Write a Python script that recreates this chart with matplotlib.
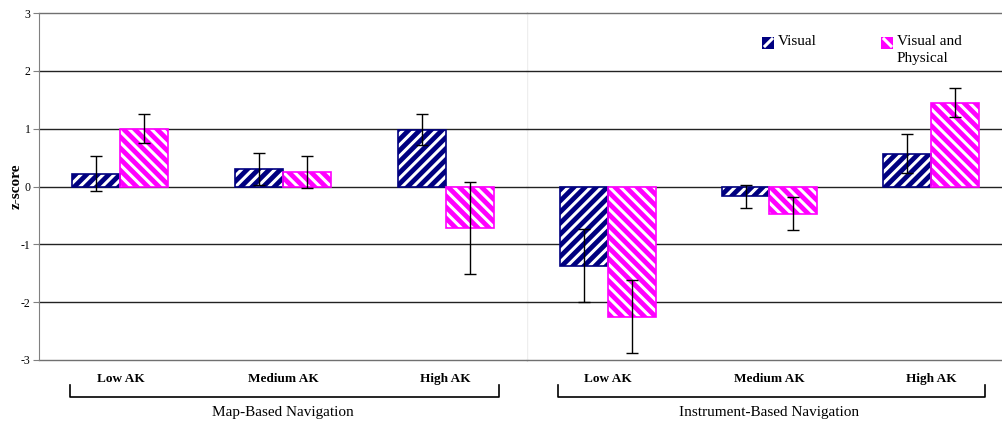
import matplotlib
matplotlib.use("Agg")
import matplotlib.pyplot as plt
from matplotlib.patches import Rectangle
from matplotlib.lines import Line2D
import numpy as np

# data
categories = ["Low AK", "Medium AK", "High AK"]
panels = ["Map-Based Navigation", "Instrument-Based Navigation"]
series = ["Visual", "Visual and\nPhysical"]

map_visual = [0.22, 0.30, 0.98]
map_visual_err = [0.30, 0.28, 0.27]
map_physical = [1.00, 0.25, -0.72]
map_physical_err = [0.25, 0.28, 0.80]

inst_visual = [-1.37, -0.17, 0.57]
inst_visual_err = [0.63, 0.20, 0.34]
inst_physical = [-2.25, -0.47, 1.45]
inst_physical_err = [0.63, 0.28, 0.25]

yticks = [-3, -2, -1, 0, 1, 2, 3]

NAVY = "#000080"
PINK = "#FF00FF"
SERIF = ["Liberation Serif", "DejaVu Serif"]

plt.rcParams["font.family"] = SERIF
plt.rcParams["hatch.linewidth"] = 2.2

W, H = 1003, 421
fig = plt.figure(figsize=(W / 100, H / 100), dpi=100)
fig.patch.set_facecolor("white")


def px_axes(x0, x1, y0, y1):
    return fig.add_axes([x0 / W, 1 - y1 / H, (x1 - x0) / W, (y1 - y0) / H])


ax_l = px_axes(39, 527, 13, 360)
ax_r = px_axes(527, 1012, 13, 360)

width = 0.295
data = [
    (ax_l, map_visual, map_visual_err, map_physical, map_physical_err, panels[0]),
    (ax_r, inst_visual, inst_visual_err, inst_physical, inst_physical_err, panels[1]),
]

x = np.arange(len(categories))
for ax, vis, vis_e, phy, phy_e, title in data:
    ax.set_xlim(-0.5, 2.5)
    ax.set_ylim(-3, 3)
    for t in yticks:
        ax.axhline(t, color="#222222" if t not in (-3, 3) else "#707070", lw=1.0, zorder=1, clip_on=False)

    # hatched bars: fill + white stripes, then coloured outline
    for xs, vals, col, hatch in [(x - width / 2, vis, NAVY, "///"), (x + width / 2, phy, PINK, "\\\\\\")]:
        ax.bar(xs, vals, width, color=col, edgecolor="white", hatch=hatch, lw=0, zorder=2)
        ax.bar(xs, vals, width, fill=False, edgecolor=col, lw=1.2, zorder=3)
    ax.errorbar(x - width / 2, vis, yerr=vis_e, fmt="none", ecolor="black", elinewidth=1, capsize=4, capthick=1, zorder=4)
    ax.errorbar(x + width / 2, phy, yerr=phy_e, fmt="none", ecolor="black", elinewidth=1, capsize=4, capthick=1, zorder=4)

    for s in ["top", "right", "bottom", "left"]:
        ax.spines[s].set_visible(False)
    ax.set_xticks([])
    ax.patch.set_alpha(0)

    tr = ax.get_xaxis_transform()
    for i, c in enumerate(categories):
        ax.text(i, -0.054, c, transform=tr, ha="center", va="center", fontsize=9.5, fontweight="bold")
    # bracket under categories
    ax.plot([-0.31, -0.31, 2.33, 2.33], [-0.072, -0.107, -0.107, -0.072], transform=tr,
            color="black", lw=1.2, clip_on=False)
    ax.text(1.0, -0.151, title, transform=tr, ha="center", va="center", fontsize=11)

# left y axis
ax_l.spines["left"].set_visible(True)
ax_l.spines["left"].set_color("#808080")
ax_l.set_yticks(yticks)
ax_l.set_yticklabels([str(t) for t in yticks], fontsize=8.5)
ax_l.tick_params(axis="y", length=4, color="#808080", pad=2)
ax_l.set_ylabel("z-score", fontsize=11, fontweight="bold", labelpad=-1)
ax_r.set_yticks([])

# faint separator between the two panels
ax_r.axvline(-0.5, color="#eeeeee", lw=1, zorder=0)

# legend drawn by hand
for (lx, col, up, label) in [(762, NAVY, True, series[0]), (881, PINK, False, series[1])]:
    yb = 49
    fig.add_artist(Rectangle((lx / W, 1 - yb / H), 12 / W, 12 / H, transform=fig.transFigure,
                             facecolor=col, edgecolor="none"))
    if up:
        xs, ys = [lx + 3, lx + 10], [yb - 3, yb - 10]
    else:
        xs, ys = [lx + 3, lx + 10], [yb - 10, yb - 3]
    fig.add_artist(Line2D([v / W for v in xs], [1 - v / H for v in ys], color="white", lw=2.2,
                          transform=fig.transFigure))
    fig.text((lx + 16) / W, 1 - 35 / H, label, ha="left", va="top", fontsize=11, linespacing=1.4)

fig.savefig("out.png", dpi=100)
